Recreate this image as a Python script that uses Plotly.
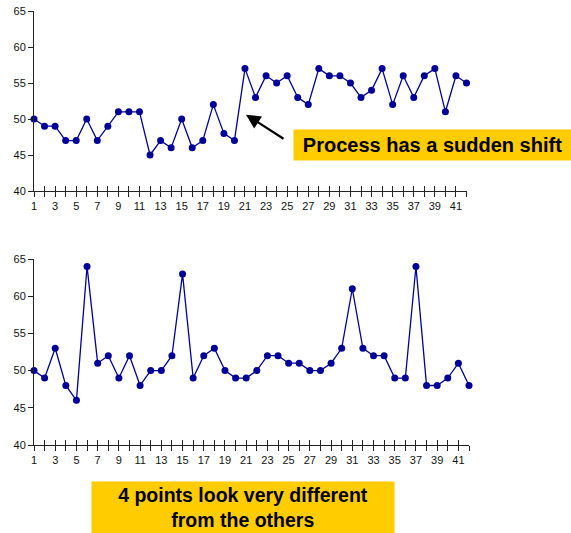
import plotly.graph_objects as go

samples = list(range(1, 43))
shift_values = [50, 49, 49, 47, 47, 50, 47, 49, 51, 51, 51, 45, 47, 46, 50, 46, 47, 52, 48, 47,
                57, 53, 56, 55, 56, 53, 52, 57, 56, 56, 55, 53, 54, 57, 52, 56, 53, 56, 57, 51, 56, 55]
outlier_values = [50, 49, 53, 48, 46, 64, 51, 52, 49, 52, 48, 50, 50, 52, 63, 49, 52, 53, 50, 49,
                  49, 50, 52, 52, 51, 51, 50, 50, 51, 53, 61, 53, 52, 52, 49, 49, 64, 48, 48, 49, 51, 48]
y_ticks = [40, 45, 50, 55, 60, 65]
x_tickvals = samples
x_ticktext = [str(s) if s % 2 == 1 else "" for s in samples]

W, H = 571, 533
LINE = "#000099"
AX = "#222222"
FONT = "Liberation Sans, Arial, sans-serif"

fig = go.Figure()
fig.add_trace(go.Scatter(x=samples, y=shift_values, mode="lines+markers",
                         line=dict(color=LINE, width=1.3), marker=dict(color=LINE, size=7),
                         xaxis="x", yaxis="y", showlegend=False, cliponaxis=False))
fig.add_trace(go.Scatter(x=samples, y=outlier_values, mode="lines+markers",
                         line=dict(color=LINE, width=1.3), marker=dict(color=LINE, size=7),
                         xaxis="x2", yaxis="y2", showlegend=False, cliponaxis=False))

def px_x(p):
    return p / W

def px_y(p):
    return 1 - p / H

xcommon = dict(range=[1, 42], tickvals=x_tickvals, ticktext=x_ticktext, ticks="outside",
               ticklen=5, tickcolor=AX, tickwidth=1, showline=True, linecolor=AX, linewidth=1,
               showgrid=False, zeroline=False, automargin=False,
               tickfont=dict(family=FONT, size=11, color="#111"))
ycommon = dict(range=[40, 65], tickvals=y_ticks, ticks="outside", ticklen=5, tickcolor=AX,
               showline=True, linecolor=AX, linewidth=1, showgrid=False, zeroline=False,
               automargin=False, tickfont=dict(family=FONT, size=11, color="#111"))
xinner = dict(range=[1, 42], tickvals=x_tickvals, ticks="inside", ticklen=5, tickcolor=AX,
              showticklabels=False, showline=False, showgrid=False, zeroline=False)

fig.update_layout(
    width=W, height=H, margin=dict(l=0, r=0, t=0, b=0),
    paper_bgcolor="white", plot_bgcolor="white",
    xaxis=dict(domain=[px_x(34), px_x(466.5)], anchor="y", **xcommon),
    yaxis=dict(domain=[px_y(191), px_y(11)], anchor="x", **ycommon),
    xaxis2=dict(domain=[px_x(34), px_x(469)], anchor="y2", **xcommon),
    yaxis2=dict(domain=[px_y(445), px_y(259)], anchor="x2", **ycommon),
    xaxis3=dict(overlaying="x", anchor="y", matches="x", **xinner),
    xaxis4=dict(overlaying="x2", anchor="y2", matches="x2", **xinner),
)
# invisible helper traces so overlay axes render
fig.add_trace(go.Scatter(x=[1], y=[40], xaxis="x3", yaxis="y", mode="markers",
                         marker=dict(opacity=0), showlegend=False, hoverinfo="skip"))
fig.add_trace(go.Scatter(x=[1], y=[40], xaxis="x4", yaxis="y2", mode="markers",
                         marker=dict(opacity=0), showlegend=False, hoverinfo="skip"))

fig.add_annotation(x=21.1, y=50.6, xref="x", yref="y", ax=39, ay=25, axref="pixel", ayref="pixel",
                   showarrow=True, arrowhead=2, arrowsize=1.3, arrowwidth=2.2, arrowcolor="black",
                   text="")
fig.add_annotation(x=px_x(432), y=px_y(145), xref="paper", yref="paper", showarrow=False,
                   xanchor="center", yanchor="middle",
                   text="<b>Process has a sudden shift</b>", bgcolor="#FFCC00",
                   width=275, height=28, align="center",
                   font=dict(family=FONT, size=20, color="black"))
fig.add_annotation(x=px_x(243), y=px_y(507.5), xref="paper", yref="paper", showarrow=False,
                   xanchor="center", yanchor="middle",
                   text="<b>4 points look very different<br>from the others</b>", bgcolor="#FFCC00",
                   width=300, height=49, align="center",
                   font=dict(family=FONT, size=19.5, color="black"))

fig.write_html("out.html", config={"displayModeBar": False},
               post_script="document.body.style.margin='0';document.body.style.overflow='hidden';")
